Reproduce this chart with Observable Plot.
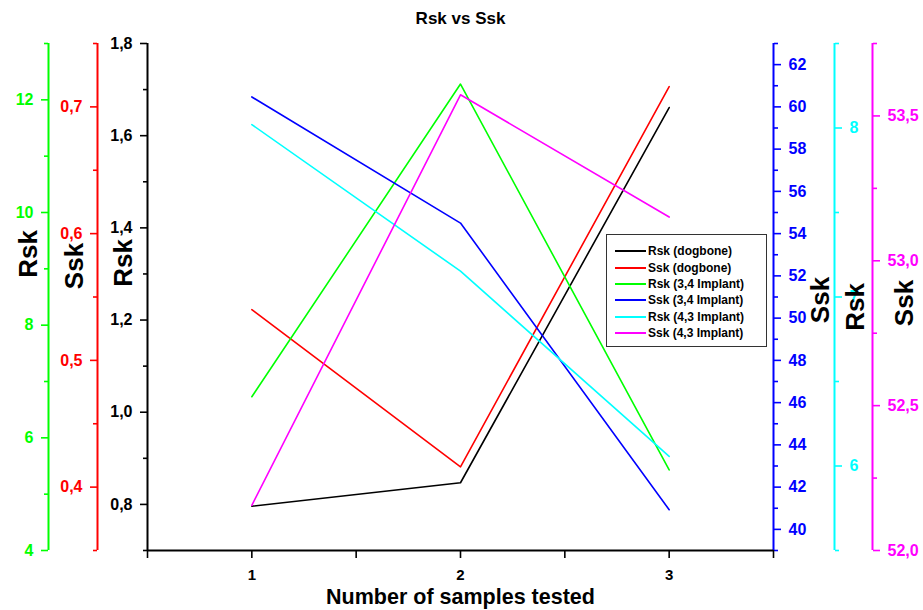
<!DOCTYPE html>
<html><head><meta charset="utf-8">
<script src="https://cdn.jsdelivr.net/npm/d3@7"></script>
<script src="https://cdn.jsdelivr.net/npm/@observablehq/plot@0.6"></script>
<style>
body{margin:0;background:#fff;font-family:"Liberation Sans",Arial,sans-serif;}
#wrap{position:relative;width:923px;height:610px;}
#legend{position:absolute;left:606px;top:234px;width:161px;height:113px;border:1px solid #333;background:#fff;box-sizing:border-box;padding-top:8px;}
.row{height:16.4px;display:flex;align-items:center;font-size:12px;font-weight:bold;color:#000;white-space:nowrap;}
.row svg{margin-left:8px;margin-right:2px;}
</style></head><body><div id="wrap"></div>
<script>
// ---- data ----
const samples = [1, 2, 3];
const rskDogbone = [0.796, 0.847, 1.661];
const sskDogbone = [0.540, 0.416, 0.716];
const rskImplant34 = [6.73, 12.28, 5.43];
const sskImplant34 = [60.47, 54.50, 40.93];
const rskImplant43 = [8.02, 7.153, 6.057];
const sskImplant43 = [52.156, 53.573, 53.151];

const seriesNames = ["Rsk (dogbone)", "Ssk (dogbone)", "Rsk (3,4 Implant)", "Ssk (3,4 Implant)", "Rsk (4,3 Implant)", "Ssk (4,3 Implant)"];
const seriesColors = ["#000000", "#ff0000", "#00ff00", "#0000ff", "#00ffff", "#ff00ff"];
const axisTitles = ["Rsk", "Ssk", "Rsk", "Ssk", "Rsk", "Ssk"];
const axisDomains = [[0.7, 1.8], [0.35, 0.75], [4, 13], [39, 63], [5.5, 8.5], [52, 53.75]];
const majorTicks = [
  [0.8, 1.0, 1.2, 1.4, 1.6, 1.8],
  [0.4, 0.5, 0.6, 0.7],
  [4, 6, 8, 10, 12],
  [40, 42, 44, 46, 48, 50, 52, 54, 56, 58, 60, 62],
  [6, 7, 8],
  [52.0, 52.5, 53.0, 53.5]
];
const minorTicks = [
  [0.7, 0.9, 1.1, 1.3, 1.5, 1.7],
  [0.35, 0.45, 0.55, 0.65, 0.75],
  [5, 7, 9, 11, 13],
  [39, 41, 43, 45, 47, 49, 51, 53, 55, 57, 59, 61, 63],
  [5.5, 6.5, 7.5, 8.5],
  [52.25, 52.75, 53.25, 53.75]
];
const tickDecimals = [1, 1, 0, 0, 0, 1];
const xTicks = [1, 2, 3];
const xMinorTicks = [0.5, 1.5, 2.5, 3.5];
const xDomain = [0.5, 3.5];
const xTitle = "Number of samples tested";
const chartTitle = "Rsk vs Ssk";

// ---- layout (style) ----
const seriesValues = [rskDogbone, sskDogbone, rskImplant34, sskImplant34, rskImplant43, sskImplant43];
const axisAnchor = ["left", "left", "left", "right", "right", "right"];
const axisDx = [0, -50, -99, 0, 61, 99];
const titleDx = [-24, -73, -119, 47, 82, 131];
const titleDy = [-34, -31, -43, 3, 10, 6];

const main = axisDomains[0];
const toMain = (i, v) => main[0] + (v - axisDomains[i][0]) / (axisDomains[i][1] - axisDomains[i][0]) * (main[1] - main[0]);
const fromMain = (i, y) => axisDomains[i][0] + (y - main[0]) / (main[1] - main[0]) * (axisDomains[i][1] - axisDomains[i][0]);
const fmt = (i, v) => d3.format(`.${tickDecimals[i]}f`)(v).replace(".", ",");

const marks = [];
seriesValues.forEach((vals, i) => {
  const rows = samples.map((s, j) => ({x: s, y: toMain(i, vals[j])}));
  marks.push(Plot.line(rows, {x: "x", y: "y", stroke: seriesColors[i], strokeWidth: 1.6}));
});
axisDomains.forEach((d, i) => {
  const anchor = axisAnchor[i];
  const color = seriesColors[i];
  marks.push(Plot.ruleX([anchor === "left" ? xDomain[0] : xDomain[1]], {dx: axisDx[i], stroke: color, strokeWidth: 2}));
  marks.push(Plot.axisY(majorTicks[i].map(v => toMain(i, v)), {
    anchor, dx: axisDx[i], tickSize: 7, tickPadding: 8, color, strokeWidth: 1.6,
    fontSize: 16, fontWeight: "bold", label: null,
    tickFormat: y => fmt(i, fromMain(i, y))
  }));
  marks.push(Plot.axisY(minorTicks[i].map(v => toMain(i, v)), {
    anchor, dx: axisDx[i], tickSize: 4, color, strokeWidth: 1.6, label: null, tickFormat: () => ""
  }));
  marks.push(Plot.text([axisTitles[i]], {
    frameAnchor: anchor, textAnchor: "middle", dx: titleDx[i], dy: titleDy[i], rotate: -90,
    fontSize: 26, fontWeight: "bold", fill: "#000"
  }));
});
marks.push(Plot.ruleY([main[0]], {stroke: "#000", strokeWidth: 2}));
marks.push(Plot.axisX(xTicks, {tickSize: 8, tickPadding: 11, strokeWidth: 1.6, fontSize: 15, fontWeight: "bold", label: null, tickFormat: d => String(d)}));
marks.push(Plot.axisX(xMinorTicks, {tickSize: 8, strokeWidth: 1.6, label: null, tickFormat: () => ""}));
marks.push(Plot.text([xTitle], {frameAnchor: "bottom", lineAnchor: "middle", dy: 47, fontSize: 21.5, fontWeight: "bold", fill: "#000"}));
marks.push(Plot.text([chartTitle], {frameAnchor: "top", lineAnchor: "middle", dy: -25, fontSize: 17, fontWeight: "bold", fill: "#000"}));

const chart = Plot.plot({
  width: 923, height: 610,
  marginTop: 43, marginBottom: 60, marginLeft: 147, marginRight: 150,
  style: {fontFamily: "'Liberation Sans', Arial, sans-serif", background: "#fff", overflow: "visible"},
  x: {domain: xDomain, axis: null},
  y: {domain: main, axis: null},
  marks
});
const wrap = document.getElementById("wrap");
wrap.appendChild(chart);

const legend = document.createElement("div");
legend.id = "legend";
seriesNames.forEach((name, i) => {
  const row = document.createElement("div");
  row.className = "row";
  row.innerHTML = `<svg width="31" height="4"><line x1="0" y1="2" x2="31" y2="2" stroke="${seriesColors[i]}" stroke-width="2"/></svg><span>${name}</span>`;
  legend.appendChild(row);
});
wrap.appendChild(legend);
</script>
</body></html>
